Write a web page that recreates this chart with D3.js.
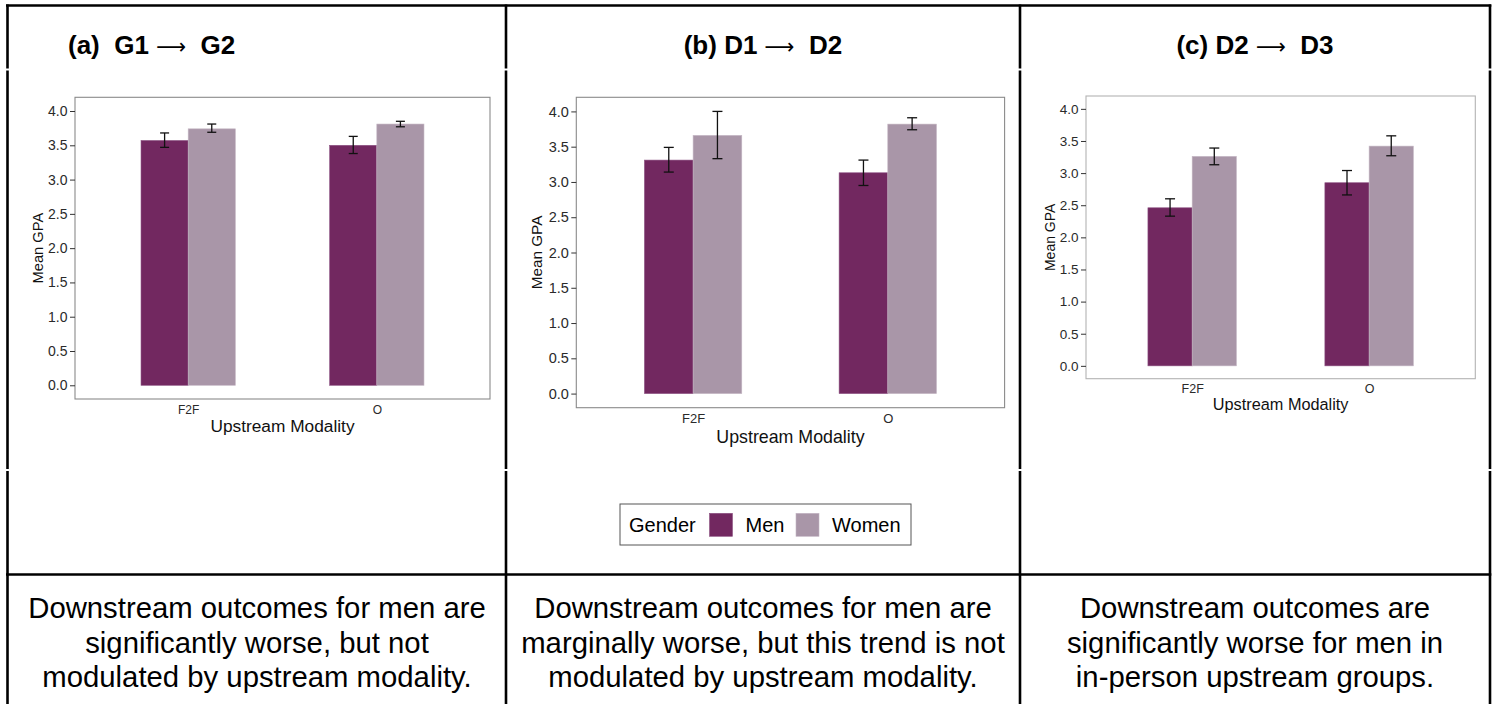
<!DOCTYPE html>
<html>
<head>
<meta charset="utf-8">
<script src="https://cdn.jsdelivr.net/npm/d3@7"></script>
<style>
  html, body { margin: 0; padding: 0; background: #fff; }
  svg { display: block; font-family: "Liberation Sans", Arial, Helvetica, sans-serif; }
  text { white-space: pre; }
</style>
</head>
<body>
<svg id="chart" width="1496" height="704"></svg>
<script>
// ---------------- DATA ----------------
const modalities = ["F2F", "O"];
const genders = ["Men", "Women"];
const yTicks = [0.0, 0.5, 1.0, 1.5, 2.0, 2.5, 3.0, 3.5, 4.0];
const titleLeft = ["(a)  G1", "(b) D1", "(c) D2"];
const titleRight = ["G2", "D2", "D3"];
const arrow = "\u27F6";
const xAxisTitle = "Upstream Modality";
const yAxisTitle = "Mean GPA";
const legendTitle = "Gender";

// panel (a) G1 -> G2
const aMen = [3.57, 3.50];
const aWomen = [3.74, 3.81];
const aMenLo = [3.47, 3.38];
const aMenHi = [3.68, 3.63];
const aWomenLo = [3.69, 3.77];
const aWomenHi = [3.81, 3.85];

// panel (b) D1 -> D2
const bMen = [3.31, 3.13];
const bWomen = [3.66, 3.82];
const bMenLo = [3.14, 2.95];
const bMenHi = [3.49, 3.31];
const bWomenLo = [3.33, 3.74];
const bWomenHi = [4.00, 3.91];

// panel (c) D2 -> D3
const cMen = [2.46, 2.85];
const cWomen = [3.26, 3.42];
const cMenLo = [2.33, 2.66];
const cMenHi = [2.60, 3.04];
const cWomenLo = [3.13, 3.27];
const cWomenHi = [3.39, 3.58];

const captionsA = ["Downstream outcomes for men are", "significantly worse, but not", "modulated by upstream modality."];
const captionsB = ["Downstream outcomes for men are", "marginally worse, but this trend is not", "modulated by upstream modality."];
const captionsC = ["Downstream outcomes are", "significantly worse for men in", "in-person upstream groups."];

// ---------------- STYLE / LAYOUT ----------------
const colors = { Men: "#722860", Women: "#a996a8" };
const svg = d3.select("#chart");

// table grid
const colX = [7.5, 506, 1020, 1490];
const grid = svg.append("g").attr("stroke", "#000").attr("stroke-width", 2.6);
grid.append("line").attr("x1", 6).attr("x2", 1491.3).attr("y1", 5.5).attr("y2", 5.5);
grid.append("line").attr("x1", 6).attr("x2", 1491.3).attr("y1", 574.5).attr("y2", 574.5);
colX.forEach(x => grid.append("line").attr("x1", x).attr("x2", x).attr("y1", 4.5).attr("y2", 704));
[68.5, 469].forEach(yy => {
  colX.forEach(x => svg.append("rect").attr("x", x - 2).attr("y", yy).attr("width", 4).attr("height", 2).attr("fill", "#fff"));
});

const panels = [
  { L: 75, T: 97.3, R: 490, B: 399, tick: 14, xtick: 12, ytitle: 14.7, xtitle: 17.3, yTitleX: 43, xTitleY: 432, xPad: 6.5, border: "#8a8a8a", cap: 9,
    men: aMen, women: aWomen, menLo: aMenLo, menHi: aMenHi, womenLo: aWomenLo, womenHi: aWomenHi,
    ti: 0, titleX: 68, titleAnchor: "start", captions: captionsA, capX: 257 },
  { L: 576.3, T: 97.3, R: 1004.6, B: 407.7, tick: 14.5, xtick: 13, ytitle: 15.3, xtitle: 17.8, yTitleX: 542, xTitleY: 443, xPad: 6.5, border: "#8a8a8a", cap: 10,
    men: bMen, women: bWomen, menLo: bMenLo, menHi: bMenHi, womenLo: bWomenLo, womenHi: bWomenHi,
    ti: 1, titleX: 763, titleAnchor: "middle", captions: captionsB, capX: 763 },
  { L: 1086, T: 96, R: 1475.3, B: 378.7, tick: 13.5, xtick: 12.5, ytitle: 14, xtitle: 16.3, yTitleX: 1055, xTitleY: 409.5, xPad: 5.5, border: "#b3b3b3", cap: 10,
    men: cMen, women: cWomen, menLo: cMenLo, menHi: cMenHi, womenLo: cWomenLo, womenHi: cWomenHi,
    ti: 2, titleX: 1255, titleAnchor: "middle", captions: captionsC, capX: 1255 }
];

panels.forEach(p => {
  const g = svg.append("g");
  const x = d3.scalePoint().domain(modalities).range([p.L, p.R]).padding(0.6);
  const step = x.step();
  const xs = d3.scaleBand().domain(genders).range([-0.25 * step, 0.25 * step]);
  const y = d3.scaleLinear().domain([-0.2, 4.2]).range([p.B, p.T]);

  const rows = [];
  modalities.forEach((m, i) => {
    rows.push({ m, g: "Men", v: p.men[i], lo: p.menLo[i], hi: p.menHi[i] });
    rows.push({ m, g: "Women", v: p.women[i], lo: p.womenLo[i], hi: p.womenHi[i] });
  });

  g.append("rect").attr("x", p.L).attr("y", p.T).attr("width", p.R - p.L).attr("height", p.B - p.T)
    .attr("fill", "#fff").attr("stroke", p.border).attr("stroke-width", 1.1);

  g.selectAll("rect.bar").data(rows).join("rect").attr("class", "bar")
    .attr("x", d => x(d.m) + xs(d.g))
    .attr("y", d => y(d.v))
    .attr("width", xs.bandwidth())
    .attr("height", d => y(0) - y(d.v))
    .attr("fill", d => colors[d.g])
    .attr("stroke", d => d.g === "Men" ? "#8c5282" : "#c4b6c3")
    .attr("stroke-width", 0.6);

  const eb = g.selectAll("g.err").data(rows).join("g").attr("class", "err")
    .attr("stroke", "#111").attr("stroke-width", 1.3);
  const cx = d => x(d.m) + xs(d.g) + xs.bandwidth() / 2;
  eb.append("line").attr("x1", cx).attr("x2", cx).attr("y1", d => y(d.lo)).attr("y2", d => y(d.hi));
  eb.append("line").attr("x1", d => cx(d) - p.cap / 2).attr("x2", d => cx(d) + p.cap / 2).attr("y1", d => y(d.lo)).attr("y2", d => y(d.lo));
  eb.append("line").attr("x1", d => cx(d) - p.cap / 2).attr("x2", d => cx(d) + p.cap / 2).attr("y1", d => y(d.hi)).attr("y2", d => y(d.hi));

  const ya = g.append("g").attr("transform", `translate(${p.L},0)`)
    .call(d3.axisLeft(y).tickValues(yTicks).tickFormat(d3.format(".1f")).tickSize(5).tickPadding(2.5));
  ya.select(".domain").remove();
  ya.selectAll(".tick line").attr("stroke", "#333").attr("stroke-width", 1);
  ya.selectAll(".tick text").attr("fill", "#2a2a2a").attr("font-size", p.tick).attr("font-family", null);

  const xa = g.append("g").attr("transform", `translate(0,${p.B})`)
    .call(d3.axisBottom(x).tickSize(0).tickPadding(p.xPad));
  xa.select(".domain").remove();
  xa.selectAll(".tick text").attr("fill", "#2a2a2a").attr("font-size", p.xtick).attr("font-family", null);

  g.append("text").attr("x", (p.L + p.R) / 2).attr("y", p.xTitleY).attr("text-anchor", "middle")
    .attr("font-size", p.xtitle).attr("fill", "#111").text(xAxisTitle);
  g.append("text").attr("transform", `translate(${p.yTitleX},${(p.T + p.B) / 2}) rotate(-90)`)
    .attr("text-anchor", "middle").attr("font-size", p.ytitle).attr("fill", "#111").text(yAxisTitle);

  // panel title with a long thin arrow
  const t = svg.append("text").attr("x", p.titleX).attr("y", 54).attr("text-anchor", p.titleAnchor)
    .attr("font-size", 26).attr("font-weight", "bold").attr("fill", "#000");
  t.append("tspan").text(titleLeft[p.ti] + " ");
  t.append("tspan").attr("font-family", "DejaVu Sans").attr("font-weight", "normal").attr("font-size", 22)
    .attr("textLength", 30).attr("lengthAdjust", "spacingAndGlyphs").text(arrow);
  t.append("tspan").text("  " + titleRight[p.ti]);

  p.captions.forEach((line, i) => {
    svg.append("text").attr("x", p.capX).attr("y", 618 + i * 34.5).attr("text-anchor", "middle")
      .attr("font-size", 29.3).attr("fill", "#000").text(line);
  });
});

// legend
const lg = svg.append("g");
lg.append("rect").attr("x", 620).attr("y", 504).attr("width", 291).attr("height", 41)
  .attr("fill", "#fff").attr("stroke", "#555").attr("stroke-width", 1);
lg.append("text").attr("x", 629).attr("y", 532).attr("font-size", 20).attr("fill", "#000").text(legendTitle);
const legendX = { Men: 709.5, Women: 796 };
genders.forEach(gname => {
  lg.append("rect").attr("x", legendX[gname]).attr("y", 513.3).attr("width", 23).attr("height", 23)
    .attr("fill", colors[gname]).attr("stroke", gname === "Men" ? "#8c5282" : "#c4b6c3").attr("stroke-width", 0.6);
  lg.append("text").attr("x", legendX[gname] + 36).attr("y", 532).attr("font-size", 20).attr("fill", "#000").text(gname);
});
</script>
</body>
</html>
